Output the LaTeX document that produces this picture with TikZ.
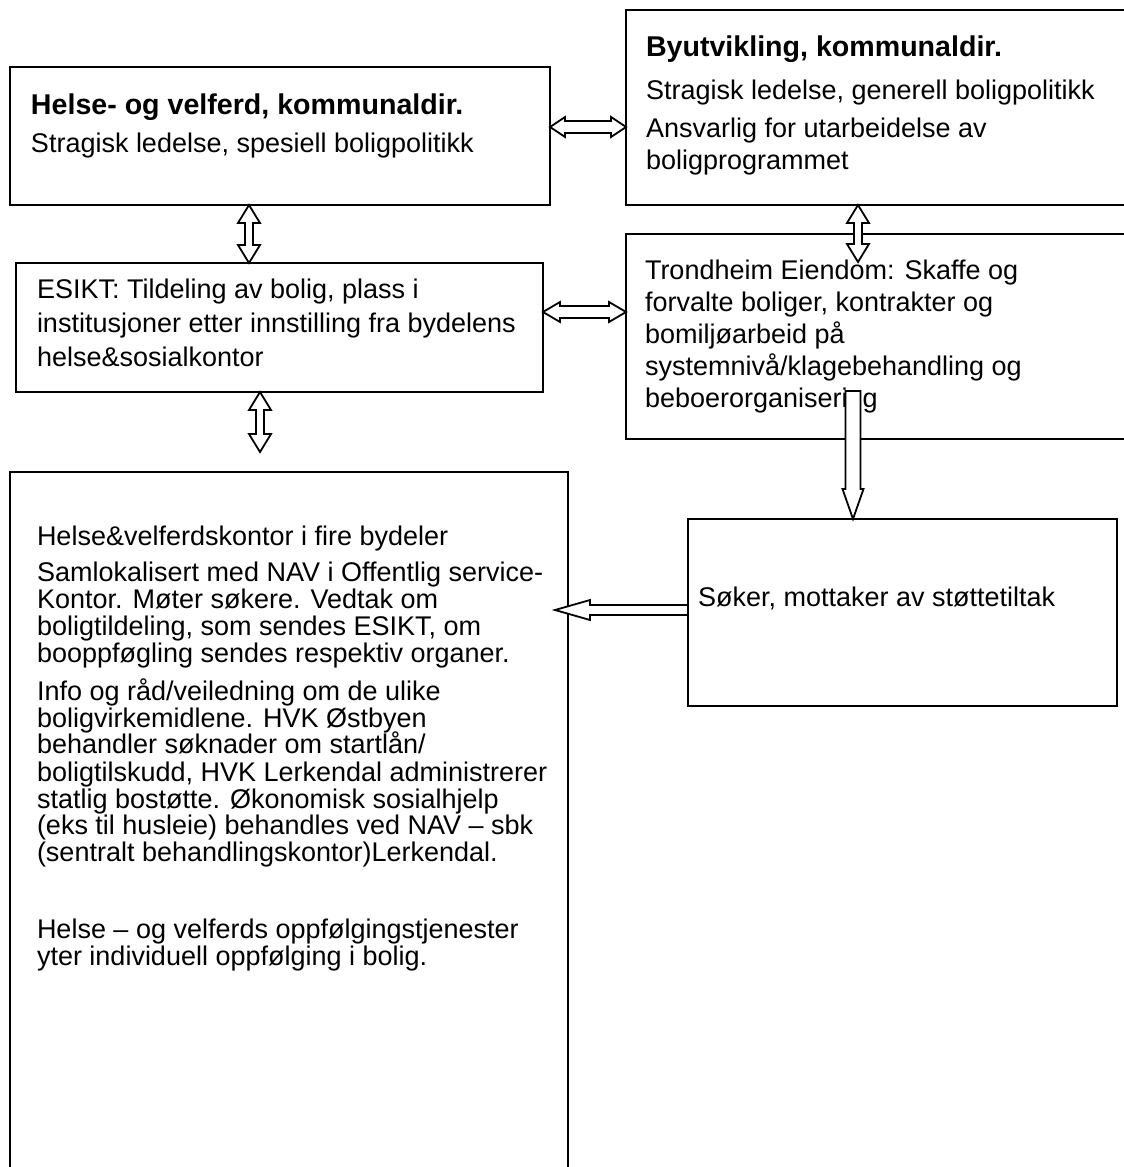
\documentclass[tikz,border=0pt]{standalone}
\usepackage{fontspec}
\setmainfont{Liberation Sans}
\usetikzlibrary{calc}
% horizontal double arrow: #1 left tip, #2 right tip, #3 shaft half, #4 head half, #5 head length
\newcommand\dblH[5]{\draw[arr] (#1) -- ($(#1)+(#5,#4)$) -- ($(#1)+(#5,#3)$) -- ($(#2)+(-#5,#3)$) -- ($(#2)+(-#5,#4)$) -- (#2) -- ($(#2)+(-#5,-#4)$) -- ($(#2)+(-#5,-#3)$) -- ($(#1)+(#5,-#3)$) -- ($(#1)+(#5,-#4)$) -- cycle;}
% vertical double arrow: #1 top tip, #2 bottom tip
\newcommand\dblV[5]{\draw[arr] (#1) -- ($(#1)+(#4,#5)$) -- ($(#1)+(#3,#5)$) -- ($(#2)+(#3,-#5)$) -- ($(#2)+(#4,-#5)$) -- (#2) -- ($(#2)+(-#4,-#5)$) -- ($(#2)+(-#3,-#5)$) -- ($(#1)+(-#3,#5)$) -- ($(#1)+(-#4,#5)$) -- cycle;}
% single down arrow: #1 tail, #2 tip
\newcommand\sglD[5]{\draw[arr] ($(#1)+(-#3,0)$) -- ($(#1)+(#3,0)$) -- ($(#2)+(#3,-#5)$) -- ($(#2)+(#4,-#5)$) -- (#2) -- ($(#2)+(-#4,-#5)$) -- ($(#2)+(-#3,-#5)$) -- cycle;}
% single left arrow: #1 tail (right), #2 tip (left)
\newcommand\sglL[5]{\draw[arr] ($(#1)+(0,-#3)$) -- ($(#1)+(0,#3)$) -- ($(#2)+(#5,#3)$) -- ($(#2)+(#5,#4)$) -- (#2) -- ($(#2)+(#5,-#4)$) -- ($(#2)+(#5,-#3)$) -- cycle;}
\begin{document}
\begin{tikzpicture}[x=0.5pt,y=-0.5pt,
  box/.style={draw, line width=1pt, anchor=north west, inner sep=0pt, outer sep=0pt},
  ln/.style={anchor=base west, inner sep=0pt, outer sep=0pt, font=\fontsize{13.5pt}{16pt}\selectfont},
  bl/.style={anchor=base west, inner sep=0pt, outer sep=0pt, font=\fontsize{14.3pt}{17pt}\selectfont\bfseries},
  arr/.style={draw, fill=white, line width=0.9pt, line join=miter}]
\useasboundingbox (0,0) rectangle (1124,1167);
\clip (0,0) rectangle (1124,1167);
\fill[white] (0,0) rectangle (1124,1167);
% boxes
\node[box, minimum width=270pt, minimum height=69pt] (A) at (10,67) {};
\node[box, minimum width=257pt, minimum height=97.5pt] (B) at (626,10) {};
\node[box, minimum width=263.5pt, minimum height=64.5pt] (C) at (16,263) {};
\node[box, minimum width=257pt, minimum height=102.5pt] (D) at (626,234) {};
\node[box, minimum width=279pt, minimum height=354pt] (E) at (10,472) {};
\node[box, minimum width=214.5pt, minimum height=93.5pt] (F) at (688,519) {};
% texts
\node[bl] (a1) at (31,114) {Helse- og velferd, kommunaldir.};
\node[ln] (a2) at (31,152) {Stragisk ledelse, spesiell boligpolitikk};
\node[bl] (b1) at (646,56) {Byutvikling, kommunaldir.};
\node[ln] (b2) at (646,99) {Stragisk ledelse, generell boligpolitikk};
\node[ln] (b3) at (646,137) {Ansvarlig for utarbeidelse av};
\node[ln] (b4) at (646,169) {boligprogrammet};
\node[ln] (c1) at (37,298) {ESIKT: Tildeling av bolig, plass i};
\node[ln] (c2) at (37,332) {institusjoner etter innstilling fra bydelens};
\node[ln] (c3) at (37,366) {helse\&sosialkontor};
\node[ln] (d1) at (645,279) {Trondheim Eiendom: Skaffe og};
\node[ln] (d2) at (645,311) {forvalte boliger, kontrakter og};
\node[ln] (d3) at (645,343) {bomiljøarbeid på};
\node[ln] (d4) at (645,375) {systemnivå/klagebehandling og};
\node[ln] (d5) at (645,407) {beboerorganisering};
\node[ln] (f1) at (698,606) {Søker, mottaker av støttetiltak};
\node[ln] (e1) at (37,545) {Helse\&velferdskontor i fire bydeler};
\node[ln] (e2) at (37,581) {Samlokalisert med NAV i Offentlig service-};
\node[ln] (e3) at (37,608) {Kontor. Møter søkere. Vedtak om};
\node[ln] (e4) at (37,635) {boligtildeling, som sendes ESIKT, om};
\node[ln] (e5) at (37,662) {booppføgling sendes respektiv organer.};
\node[ln] (e6) at (37,700) {Info og råd/veiledning om de ulike};
\node[ln] (e7) at (37,727) {boligvirkemidlene. HVK Østbyen};
\node[ln] (e8) at (37,753) {behandler søknader om startlån/};
\node[ln] (e9) at (37,781) {boligtilskudd, HVK Lerkendal administrerer};
\node[ln] (e10) at (37,808) {statlig bostøtte. Økonomisk sosialhjelp};
\node[ln] (e11) at (37,834) {(eks til husleie) behandles ved NAV – sbk};
\node[ln] (e12) at (37,861) {(sentralt behandlingskontor)Lerkendal.};
\node[ln] (e13) at (37,938) {Helse – og velferds oppfølgingstjenester};
\node[ln] (e14) at (37,965) {yter individuell oppfølging i bolig.};
% connector guide coordinates
\coordinate (yAB) at (0,127);
\coordinate (yCD) at (0,312);
\coordinate (yFE) at (0,610);
\coordinate (xAC) at (249,0);
\coordinate (xCE) at (260,0);
\coordinate (xBD) at (858,0);
\coordinate (xDF) at (853,0);
\coordinate (ab1) at (A.east |- yAB);
\coordinate (ab2) at (B.west |- yAB);
\coordinate (cd1) at (C.east |- yCD);
\coordinate (cd2) at (D.west |- yCD);
\coordinate (ac1) at (A.south -| xAC);
\coordinate (ac2) at (C.north -| xAC);
\coordinate (bd1) at (B.south -| xBD);
\coordinate (bd2) at ($(B.south -| xBD)+(0,57)$);
\coordinate (ce1) at (C.south -| xCE);
\coordinate (ce2) at ($(E.north -| xCE)+(0,-20)$);
\coordinate (df1) at ($(D.south -| xDF)+(0,-48)$);
\coordinate (df2) at (F.north -| xDF);
\coordinate (fe1) at (F.west |- yFE);
\coordinate (fe2) at ($(E.east |- yFE)+(-13,0)$);
% connectors
\dblH{ab1}{ab2}{6}{10}{15}
\dblH{cd1}{cd2}{6}{10}{17}
\dblV{ac1}{ac2}{4}{11}{18}
\dblV{bd1}{bd2}{4}{11}{18}
\dblV{ce1}{ce2}{4}{11}{18}
\sglD{df1}{df2}{7.5}{10.5}{30}
\sglL{fe1}{fe2}{5}{10}{35}
\end{tikzpicture}
\end{document}
